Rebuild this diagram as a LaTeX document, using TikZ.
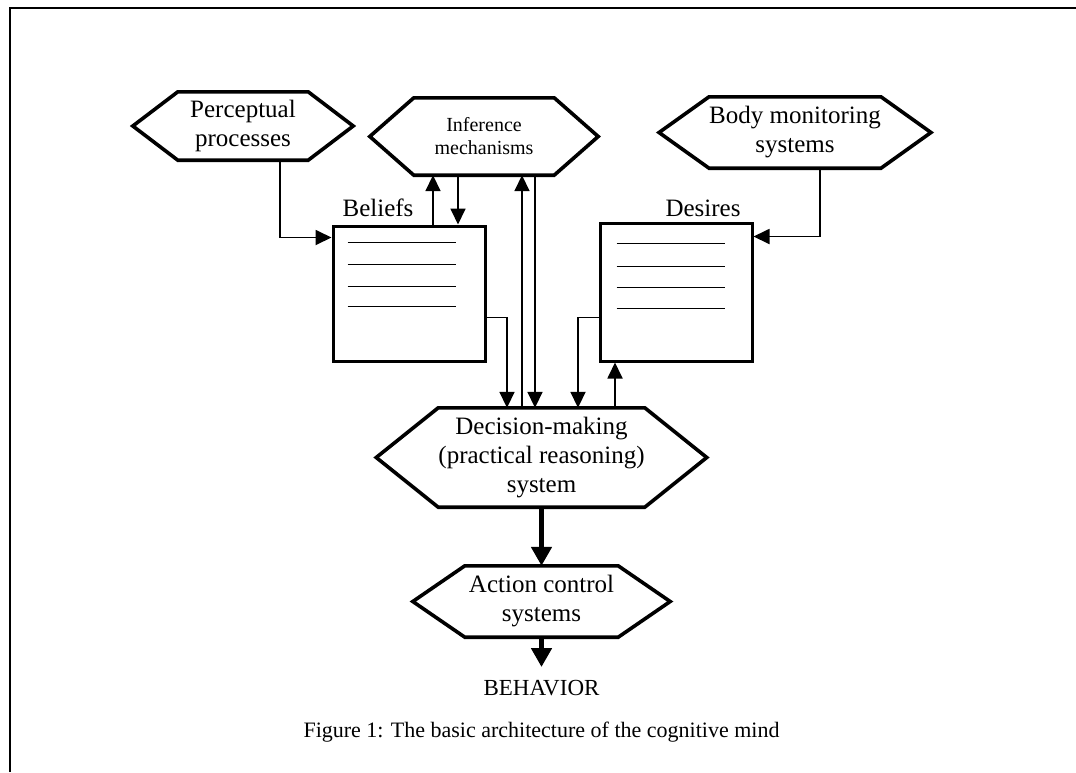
\documentclass[tikz,border=0pt]{standalone}
\usepackage{fontspec}
\setmainfont{Liberation Serif}
\usetikzlibrary{arrows.meta}
\tikzset{
  hexn/.style={draw=none, inner sep=0pt, align=center, font=\fontsize{25}{29}\selectfont},
  hexline/.style={line width=3.6pt, line join=miter},
  memory/.style={draw, line width=3pt, inner sep=0pt, minimum width=152pt},
  rule/.style={line width=1.5pt},
  lbl/.style={inner sep=0pt, font=\fontsize{25}{29}\selectfont},
  conn/.style={line width=1.8pt, -{Triangle[length=16pt,width=15pt]}},
  bigconn/.style={line width=5pt, -{Triangle[length=19pt,width=20pt]}},
  frameline/.style={line width=2.5pt}
}
\newcommand{\hexof}[2]{%
  \draw[hexline] (#1.north west) -- (#1.north east) -- ([xshift=#2]#1.east)
    -- (#1.south east) -- (#1.south west) -- ([xshift=-#2]#1.west) -- cycle;}
\begin{document}
\begin{tikzpicture}[x=1pt,y=-1pt]
\useasboundingbox (0,0) rectangle (1076,772);
\draw[frameline] (10,772) -- (10,8) -- (1076,8);

% hexagon nodes
\node[hexn, minimum width=130pt, minimum height=68pt] (perc) at (243,126) {Perceptual\\processes};
\hexof{perc}{45pt}
\node[hexn, minimum width=140pt, minimum height=77pt, font=\fontsize{20}{23}\selectfont] (inf) at (484,136.5) {Inference\\mechanisms};
\hexof{inf}{44pt}
\node[hexn, minimum width=160pt, minimum height=71pt] (body) at (795,132.5) {Body monitoring\\systems};
\hexof{body}{50pt}
\node[hexn, minimum width=182pt, minimum height=99pt] (dec) at (541.5,457.5) {Decision-making\\(practical reasoning)\\system};
\hexof{dec}{62pt}
\node[hexn, minimum width=153pt, minimum height=71pt] (act) at (541.5,601.5) {Action control\\systems};
\hexof{act}{52pt}

% memory boxes
\node[memory, minimum height=135pt] (bel) at (409,293.5) {};
\node[memory, minimum height=138pt] (des) at (676,292) {};
\foreach \d in {18,40,62,82}
  \draw[rule] ([xshift=16pt,yshift=-\d pt]bel.north west) -- ([xshift=124pt,yshift=-\d pt]bel.north west);
\foreach \d in {22,45,66,87}
  \draw[rule] ([xshift=18pt,yshift=-\d pt]des.north west) -- ([xshift=126pt,yshift=-\d pt]des.north west);
\node[lbl] (bellab) at (378,208) {Beliefs};
\node[lbl] (deslab) at (703,208) {Desires};

% connectors
\draw[conn] ([xshift=37pt]perc.south) |- ([yshift=-13pt]bel.north west);
\draw[conn] ([xshift=24pt]bel.north) -- ([xshift=24pt]bel.north |- inf.south);
\draw[conn] ([xshift=49pt]bel.north |- inf.south) -- ([xshift=49pt]bel.north);
\draw[conn] ([xshift=-19.5pt]dec.north) -- ([xshift=-19.5pt]dec.north |- inf.south);
\draw[conn] ([xshift=-6.5pt]dec.north |- inf.south) -- ([xshift=-6.5pt]dec.north);
\draw[conn] ([yshift=-93pt]bel.north east) -| ([xshift=-34.5pt]dec.north);
\draw[conn] ([yshift=-96pt]des.north west) -| ([xshift=36.5pt]dec.north);
\draw[conn] ([xshift=73.5pt]dec.north) -- ([xshift=73.5pt]dec.north |- des.south);
\draw[conn] ([xshift=25pt]body.south) |- ([yshift=-15pt]des.north east);

\draw[bigconn] (dec.south) -- (act.north);
\node[inner xsep=0pt, inner ysep=13pt, font=\fontsize{23}{27}\selectfont] (beh) at (541.5,688) {BEHAVIOR};
\draw[bigconn] (act.south) -- (beh.north);

\node[inner sep=0pt, font=\fontsize{22}{26}\selectfont] (cap) at (541.5,732) {Figure 1: The basic architecture of the cognitive mind};
\end{tikzpicture}
\end{document}
